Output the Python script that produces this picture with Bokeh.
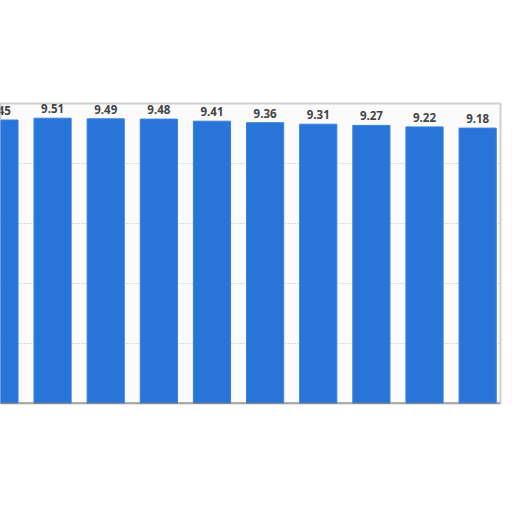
import numpy as np
from bokeh.plotting import figure
from bokeh.models import Range1d, ColumnDataSource, Grid, FixedTicker, Span
from bokeh.core.properties import value
from bokeh.embed import file_html
from bokeh.resources import INLINE

# data (first bar partially cut off at the left)
labels = ["9.45", "9.51", "9.49", "9.48", "9.41", "9.36", "9.31", "9.27", "9.22", "9.18"]
values = [9.45, 9.51, 9.49, 9.48, 9.41, 9.36, 9.31, 9.27, 9.22, 9.18]
y_ticks = [0, 2, 4, 6, 8, 10]

positions = list(range(len(values)))
src = ColumnDataSource(dict(x=positions, top=values, label=labels))

p = figure(width=504, height=496, output_backend="svg", toolbar_location=None,
           x_axis_type=None, y_axis_type=None,
           x_range=Range1d(0.02, 9.43), y_range=Range1d(0, 10),
           min_border_left=0, min_border_right=4, min_border_top=103, min_border_bottom=93)
p.background_fill_color = "#fbfbfb"
p.border_fill_color = "#ffffff"
p.outline_line_color = "#d0d0d0"
p.outline_line_width = 2

grid = Grid(dimension=1, ticker=FixedTicker(ticks=y_ticks),
            grid_line_color="#b8b8b8", grid_line_dash="1 2", grid_line_width=1)
p.add_layout(grid)

p.vbar(x="x", top="top", width=0.7, bottom=0, source=src,
       fill_color="#2874d9", line_color="#3a82e0", line_width=1)

base = Span(location=0, dimension="width", line_color="#7a7a7a", line_width=2)
p.add_layout(base)

p.text(x="x", y="top", text="label", source=src, text_align="center",
       text_baseline="bottom", y_offset=-5, text_font=value("Open Sans"),
       text_font_style="bold", text_font_size="11.5px", text_color="#444444")

open("out.html", "w").write(file_html(p, INLINE))
